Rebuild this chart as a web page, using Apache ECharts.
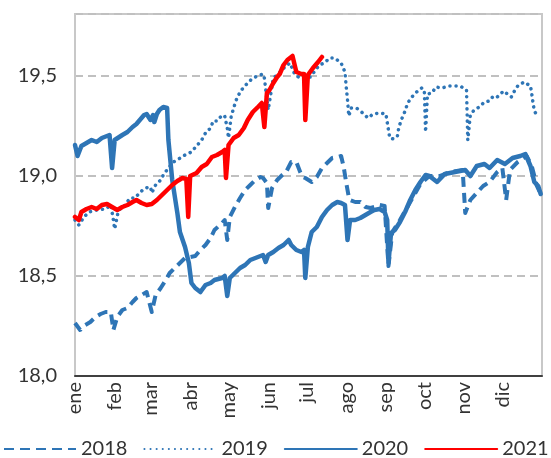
<!DOCTYPE html>
<html>
<head>
<meta charset="utf-8">
<script src="https://cdn.jsdelivr.net/npm/echarts@6/dist/echarts.min.js"></script>
<style>
    html, body { margin: 0; padding: 0; background: #fff; }
    #chart { width: 551px; height: 458px; }
</style>
</head>
<body>
<div id="chart"></div>
<script>
// meses (eje X: dia del año)
var monthNames = ['ene', 'feb', 'mar', 'abr', 'may', 'jun', 'jul', 'ago', 'sep', 'oct', 'nov', 'dic'];
var monthStart = [0, 31, 59, 90, 120, 151, 181, 212, 243, 273, 304, 334];
var yTicks = [18.0, 18.5, 19.0, 19.5];

// 2018
var days2018 = [0, 4, 8, 12, 16, 20, 24, 28, 30, 33,
    37, 41, 45, 48, 52, 56, 60, 63, 67, 71,
    74, 78, 82, 86, 94, 98, 102, 106, 109, 115,
    117, 119, 121, 125, 129, 133, 137, 141, 145, 147,
    150, 151, 154, 158, 162, 165, 169, 173, 176, 178,
    180, 185, 189, 193, 197, 201, 205, 208, 210, 212,
    214, 215, 219, 223, 227, 231, 234, 238, 242, 245,
    248, 254, 262, 270, 277, 285, 293, 303, 305, 309,
    314, 319, 324, 330, 334, 337, 340, 346, 353, 357,
    361, 364];
var vals2018 = [18.265, 18.23, 18.255, 18.27, 18.295, 18.31, 18.32, 18.32, 18.23, 18.295,
    18.33, 18.34, 18.37, 18.39, 18.405, 18.42, 18.32, 18.405, 18.44, 18.48,
    18.515, 18.54, 18.565, 18.59, 18.60, 18.63, 18.655, 18.69, 18.73, 18.765,
    18.78, 18.68, 18.795, 18.845, 18.89, 18.93, 18.955, 18.98, 18.995, 18.99,
    18.965, 18.84, 18.94, 18.98, 19.005, 19.02, 19.07, 19.07, 19.02, 18.995,
    18.99, 18.97, 18.995, 19.04, 19.065, 19.09, 19.095, 19.10, 19.045, 18.965,
    18.895, 18.88, 18.87, 18.87, 18.845, 18.84, 18.845, 18.855, 18.85, 18.55,
    18.72, 18.78, 18.87, 18.96, 19.0, 19.0, 19.02, 19.03, 18.815, 18.88,
    18.915, 18.95, 18.97, 19.02, 19.04, 18.88, 19.03, 19.07, 19.1, 19.05,
    18.95, 18.91];

// 2019
var days2019 = [0, 3, 7, 11, 17, 24, 28, 30, 31, 34,
    38, 43, 47, 51, 55, 59, 60, 63, 67, 69,
    73, 77, 81, 86, 91, 95, 99, 102, 106, 108,
    111, 115, 117, 119, 120, 122, 124, 126, 129, 132,
    135, 139, 143, 147, 148, 151, 155, 159, 164, 168,
    172, 176, 184, 188, 191, 195, 199, 203, 208, 211,
    212, 213, 214, 216, 220, 224, 229, 233, 238, 243,
    244, 245, 246, 249, 252, 253, 255, 258, 260, 264,
    267, 271, 273, 274, 275.5, 279, 282, 287, 292, 296,
    301, 306, 307, 309, 312, 316, 320, 324, 327, 330,
    335, 337, 341, 343, 346, 351, 356, 357, 358, 359,
    362];
var vals2019 = [18.78, 18.755, 18.795, 18.82, 18.83, 18.835, 18.855, 18.78, 18.735, 18.83,
    18.845, 18.89, 18.89, 18.92, 18.94, 18.945, 18.915, 18.955, 18.98, 19.005,
    19.04, 19.07, 19.085, 19.105, 19.12, 19.15, 19.18, 19.215, 19.24, 19.275,
    19.275, 19.305, 19.30, 19.24, 19.19, 19.295, 19.34, 19.38, 19.42, 19.445,
    19.465, 19.49, 19.50, 19.51, 19.49, 19.33, 19.49, 19.51, 19.545, 19.565,
    19.505, 19.49, 19.495, 19.53, 19.555, 19.565, 19.59, 19.59, 19.565, 19.52,
    19.445, 19.38, 19.30, 19.34, 19.34, 19.32, 19.29, 19.31, 19.315, 19.31,
    19.27, 19.23, 19.19, 19.185, 19.20, 19.24, 19.28, 19.325, 19.365, 19.40,
    19.42, 19.44, 19.43, 19.22, 19.41, 19.415, 19.445, 19.44, 19.45, 19.45,
    19.45, 19.43, 19.18, 19.305, 19.33, 19.345, 19.37, 19.375, 19.40, 19.395,
    19.425, 19.415, 19.395, 19.42, 19.45, 19.47, 19.45, 19.41, 19.365, 19.325,
    19.295];

// 2020
var days2020 = [0, 2, 5, 9, 13, 17, 21, 25, 27, 29,
    31, 37, 41, 45, 48, 54, 56, 59, 61, 62,
    64, 66, 69, 72, 73, 76, 80, 82, 86, 89,
    91, 94, 98, 102, 106, 109, 115, 117, 119, 121,
    125, 129, 133, 137, 141, 145, 147, 149, 151, 155,
    159, 163, 167, 169, 173, 177, 179, 180, 182, 185,
    189, 193, 197, 201, 205, 208, 211, 213, 215, 219,
    223, 227, 231, 234, 238, 242, 244, 245, 247, 250,
    254, 258, 262, 266, 270, 274, 277, 283, 289, 297,
    305, 309, 314, 320, 324, 330, 336, 342, 348, 352,
    356, 359, 362, 364];
var vals2020 = [19.155, 19.10, 19.15, 19.165, 19.18, 19.17, 19.19, 19.20, 19.205, 19.04,
    19.18, 19.205, 19.22, 19.245, 19.26, 19.305, 19.31, 19.28, 19.305, 19.27,
    19.31, 19.33, 19.345, 19.34, 19.18, 18.98, 18.815, 18.72, 18.645, 18.565,
    18.465, 18.44, 18.42, 18.455, 18.465, 18.48, 18.49, 18.50, 18.40, 18.49,
    18.515, 18.54, 18.555, 18.58, 18.59, 18.60, 18.605, 18.57, 18.605, 18.62,
    18.64, 18.655, 18.68, 18.655, 18.63, 18.62, 18.63, 18.49, 18.645, 18.72,
    18.745, 18.795, 18.83, 18.855, 18.87, 18.865, 18.855, 18.68, 18.78, 18.78,
    18.79, 18.805, 18.82, 18.83, 18.835, 18.82, 18.78, 18.565, 18.715, 18.73,
    18.77, 18.82, 18.88, 18.93, 18.97, 19.005, 19.0, 18.97, 19.01, 19.02,
    19.03, 19.0, 19.05, 19.06, 19.04, 19.08, 19.06, 19.09, 19.10, 19.11,
    19.05, 18.97, 18.95, 18.91];

// 2021
var days2021 = [0, 3, 5, 9, 13, 17, 21, 25, 29, 33,
    37, 41, 45, 48, 52, 56, 60, 64, 68, 72,
    76, 80, 84, 87, 88.5, 90, 95, 99, 103, 107,
    111, 115, 117, 118, 120, 124, 128, 132, 135, 139,
    143, 146, 148, 150, 152, 155, 158, 160, 163, 166,
    170, 173, 177, 179, 180, 182, 186, 190, 193];
var vals2021 = [18.795, 18.78, 18.82, 18.835, 18.845, 18.835, 18.855, 18.86, 18.845, 18.83,
    18.845, 18.855, 18.87, 18.88, 18.865, 18.855, 18.86, 18.88, 18.905, 18.93,
    18.955, 18.975, 18.99, 18.985, 18.795, 19.0, 19.015, 19.045, 19.06, 19.095,
    19.105, 19.12, 19.13, 18.99, 19.155, 19.19, 19.205, 19.24, 19.28, 19.32,
    19.345, 19.365, 19.245, 19.415, 19.43, 19.465, 19.495, 19.51, 19.555, 19.58,
    19.6, 19.52, 19.51, 19.51, 19.28, 19.505, 19.54, 19.57, 19.595];

function pairs(d, v) {
    var out = [];
    for (var i = 0; i < d.length; i++) {
        out.push([d[i], v[i]]);
    }
    return out;
}

var blue = '#2e75b6';
var fontName = 'Lato';

var chart = echarts.init(document.getElementById('chart'));
var option = {
    animation: false,
    textStyle: { fontFamily: fontName },
    grid: {
        left: 75, right: 9, top: 14, bottom: 82,
        show: true,
        borderColor: '#c8c8c8',
        borderWidth: 2
    },
    legend: {
        left: 3,
        top: 439,
        width: 548,
        padding: 0,
        itemWidth: 72,
        itemHeight: 14,
        itemGap: 16,
        itemStyle: { opacity: 0 },   // sin simbolo, solo la linea
        textStyle: { fontSize: 20, color: '#333', fontFamily: fontName },
        data: ['2018', '2019', '2020', '2021']
    },
    xAxis: {
        type: 'value',
        min: 0,
        max: 365,
        axisLine: { show: true, lineStyle: { color: '#404040', width: 2 } },
        axisTick: { show: false },
        splitLine: { show: false },
        axisLabel: {
            customValues: monthStart,
            rotate: 90,
            fontSize: 20,
            color: '#333',
            margin: 6,
            formatter: function(v) {
                var i = monthStart.indexOf(v);
                return i >= 0 ? monthNames[i] : '';
            }
        }
    },
    yAxis: {
        type: 'value',
        min: 18,
        max: 19.81,
        interval: 0.5,
        axisLine: { show: true, lineStyle: { color: '#c8c8c8', width: 2 } },
        axisTick: { show: false },
        splitLine: { lineStyle: { color: '#c0c0c0', width: 2, type: [8, 5] } },
        axisLabel: {
            fontSize: 20,
            color: '#333',
            margin: 18,
            showMaxLabel: false,
            formatter: function(v) {
                for (var i = 0; i < yTicks.length; i++) {
                    if (Math.abs(yTicks[i] - v) < 1e-6) return v.toFixed(1).replace('.', ',');
                }
                return '';
            }
        }
    },
    series: [{
        name: '2018',
        type: 'line',
        symbol: 'none',
        data: pairs(days2018, vals2018),
        itemStyle: { color: blue },
        lineStyle: { color: blue, width: 4, type: [10, 6], cap: 'butt', join: 'round' }
    },
        {
            name: '2019',
            type: 'line',
            symbol: 'none',
            data: pairs(days2019, vals2019),
            itemStyle: { color: blue },
            lineStyle: { color: blue, width: 3.5, type: [0.1, 6], cap: 'round', join: 'round' }
        },
        {
            name: '2020',
            type: 'line',
            symbol: 'none',
            data: pairs(days2020, vals2020),
            itemStyle: { color: blue },
            lineStyle: { color: blue, width: 4.5, cap: 'round', join: 'round' }
        },
        {
            name: '2021',
            type: 'line',
            symbol: 'none',
            data: pairs(days2021, vals2021),
            itemStyle: { color: '#ff0000' },
            lineStyle: { color: '#ff0000', width: 4.5, cap: 'round', join: 'round' }
        }
    ]
};
chart.setOption(option);
</script>
</body>
</html>
